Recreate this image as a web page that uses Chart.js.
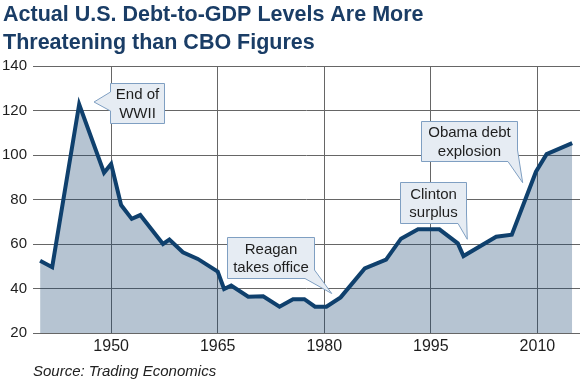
<!DOCTYPE html>
<html>
<head>
<meta charset="utf-8">
<script src="https://cdn.jsdelivr.net/npm/chart.js@4/dist/chart.umd.min.js"></script>
<style>
  html, body { margin: 0; padding: 0; background: #ffffff; }
  #wrap { position: absolute; left: 0; top: 0; width: 580px; height: 379px; }
</style>
</head>
<body>
<div id="wrap"><canvas id="c" width="580" height="379"></canvas></div>
<script>
// ---- Data ----
const years = [1940, 1941.7, 1945.5, 1949.0, 1950.0, 1951.4, 1952.9, 1954.1, 1957.3, 1958.2,
               1960.1, 1962.2, 1965.0, 1965.9, 1966.9, 1969.3, 1971.4, 1973.7, 1975.6, 1977.2,
               1978.7, 1980.3, 1982.3, 1985.7, 1988.7, 1990.8, 1993.2, 1996.2, 1998.8, 1999.6,
               2004.2, 2006.4, 2009.8, 2011.3, 2014.9];
const debtToGdp = [52.5, 49.6, 122.8, 92.0, 96.0, 77.5, 71.3, 73.0, 60.0, 62.0,
                   56.3, 53.3, 47.6, 39.8, 41.3, 36.3, 36.5, 31.8, 35.2, 35.2,
                   31.8, 31.8, 36.0, 49.0, 53.0, 62.4, 66.6, 66.6, 60.3, 54.6,
                   63.3, 64.2, 92.5, 100.4, 105.3];
const xTickYears = [1950, 1965, 1980, 1995, 2010];
const yTickValues = [20, 40, 60, 80, 100, 120, 140];

const titleLines = ["Actual U.S. Debt-to-GDP Levels Are More", "Threatening than CBO Figures"];
const sourceText = "Source: Trading Economics";

const calloutTexts = [["End of", "WWII"], ["Reagan", "takes office"], ["Clinton", "surplus"], ["Obama debt", "explosion"]];
// callout geometry in data units (year, value)
const calloutGeom = [
  { box: [1949.84, 132.36, 1957.44, 114.38], tip: [1947.59, 123.82], side: "left", base: [128.31, 119.78] },
  { box: [1966.27, 63.15, 1978.60, 44.72], tip: [1981.05, 37.75], side: "corner", base: [48.31, 1977.29] },
  { box: [1990.66, 87.87, 1999.95, 69.44], tip: [2000.13, 62.11], side: "corner", base: [73.48, 1998.83] },
  { box: [1993.58, 115.28, 2007.09, 97.30], tip: [2007.93, 87.55], side: "corner", base: [102.25, 2005.86] }
];

const FONT = '"Liberation Sans", Arial, Helvetica, sans-serif';

const decorPlugin = {
  id: 'decor',
  afterDraw(chart) {
    const ctx = chart.ctx;
    const xs = chart.scales.x, ys = chart.scales.y;
    // title
    ctx.save();
    ctx.fillStyle = '#1a3d66';
    ctx.font = 'bold 21.5px ' + FONT;
    ctx.textAlign = 'left';
    ctx.textBaseline = 'alphabetic';
    ctx.fillText(titleLines[0], 3, 20.7);
    ctx.fillText(titleLines[1], 3, 48.6);
    // source
    ctx.fillStyle = '#222';
    ctx.font = 'italic 15px ' + FONT;
    ctx.fillText(sourceText, 33, 376);
    // callouts
    calloutGeom.forEach((g, i) => {
      const x0 = Math.round(xs.getPixelForValue(g.box[0])) + 0.5;
      const x1 = Math.round(xs.getPixelForValue(g.box[2])) + 0.5;
      const y0 = Math.round(ys.getPixelForValue(g.box[1])) + 0.5;
      const y1 = Math.round(ys.getPixelForValue(g.box[3])) + 0.5;
      const tx = xs.getPixelForValue(g.tip[0]);
      const ty = ys.getPixelForValue(g.tip[1]);
      ctx.beginPath();
      if (g.side === 'left') {
        const b1 = ys.getPixelForValue(g.base[0]);
        const b2 = ys.getPixelForValue(g.base[1]);
        ctx.moveTo(x0, y0);
        ctx.lineTo(x1, y0);
        ctx.lineTo(x1, y1);
        ctx.lineTo(x0, y1);
        ctx.lineTo(x0, b2);
        ctx.lineTo(tx, ty);
        ctx.lineTo(x0, b1);
        ctx.closePath();
      } else {
        const ry = ys.getPixelForValue(g.base[0]);
        const bx = xs.getPixelForValue(g.base[1]);
        ctx.moveTo(x0, y0);
        ctx.lineTo(x1, y0);
        ctx.lineTo(x1, ry);
        ctx.lineTo(tx, ty);
        ctx.lineTo(bx, y1);
        ctx.lineTo(x0, y1);
        ctx.closePath();
      }
      ctx.fillStyle = '#e6ecf3';
      ctx.fill();
      ctx.lineWidth = 1;
      ctx.strokeStyle = '#7f9fc2';
      ctx.stroke();
      const lines = calloutTexts[i];
      const cx = (x0 + x1) / 2, cy = (y0 + y1) / 2;
      ctx.fillStyle = '#1e1e1e';
      ctx.font = '15px ' + FONT;
      ctx.textAlign = 'center';
      ctx.textBaseline = 'alphabetic';
      const lh = 18.5;
      lines.forEach((t, k) => {
        ctx.fillText(t, cx, cy + (k - (lines.length - 1) / 2) * lh + 5.2);
      });
    });
    ctx.restore();
  }
};

const chart = new Chart(document.getElementById('c'), {
  type: 'line',
  data: {
    datasets: [{
      data: years.map((y, i) => ({ x: y, y: debtToGdp[i] })),
      borderColor: '#0f406d',
      borderWidth: 4,
      borderJoinStyle: 'miter',
      backgroundColor: 'rgba(20,65,110,0.31)',
      fill: 'start',
      pointRadius: 0,
      tension: 0
    }]
  },
  options: {
    responsive: false,
    animation: false,
    devicePixelRatio: 1,
    layout: { padding: { top: 66, right: 0, left: 0, bottom: 0 } },
    plugins: { legend: { display: false }, tooltip: { enabled: false }, title: { display: false } },
    scales: {
      x: {
        type: 'linear',
        min: 1939,
        max: 2016,
        afterBuildTicks: (s) => { s.ticks = xTickYears.map(v => ({ value: v })); },
        afterFit: (s) => { s.height = 46; },
        grid: { color: '#666', lineWidth: 1, drawTicks: false },
        border: { display: true, color: '#666', width: 1 },
        ticks: {
          color: '#1e1e1e',
          font: { family: FONT, size: 16 },
          padding: 4,
          maxRotation: 0,
          autoSkip: false,
          callback: (v) => String(v)
        }
      },
      y: {
        min: 20,
        max: 140,
        afterBuildTicks: (s) => { s.ticks = yTickValues.map(v => ({ value: v })); },
        afterFit: (s) => { s.width = 33; },
        grid: { color: '#666', lineWidth: 1, drawTicks: false },
        border: { display: false },
        ticks: {
          color: '#1e1e1e',
          font: { family: FONT, size: 15 },
          padding: 6,
          callback: (v) => String(v)
        }
      }
    }
  },
  plugins: [decorPlugin]
});
</script>
</body>
</html>
